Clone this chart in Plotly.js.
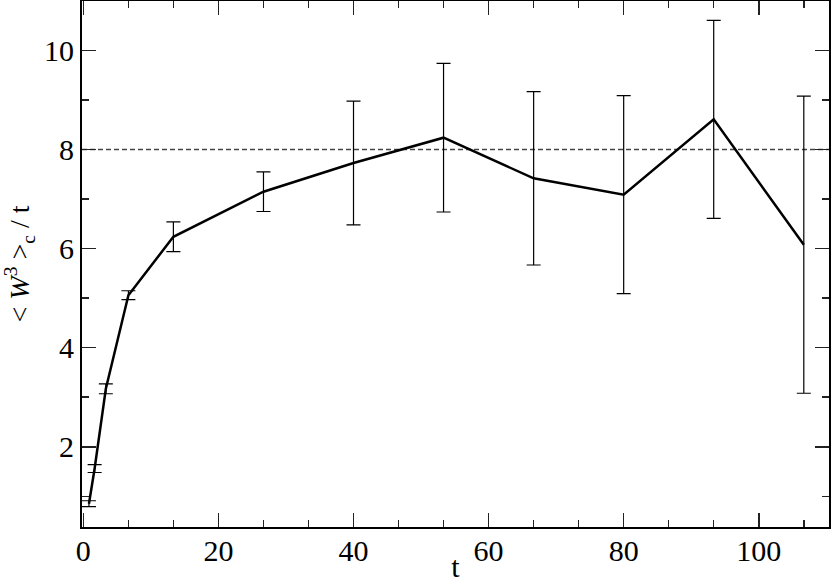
<!DOCTYPE html>
<html>
<head>
<meta charset="utf-8">
<script src="https://cdn.plot.ly/plotly-3.0.1.min.js"></script>
<style>html,body{margin:0;padding:0;background:#fff;}#chart{width:831px;height:583px;}</style>
</head>
<body>
<div id="chart"></div>
<script>
// Data
const tValues   = [0.83, 1.67, 3.33, 6.67, 13.33, 26.67, 40, 53.33, 66.67, 80, 93.33, 106.67];
const w3Values  = [0.85, 1.56, 3.17, 5.06, 6.24, 7.15, 7.73, 8.24, 7.42, 7.09, 8.61, 6.08];
const w3Errors  = [0.06, 0.08, 0.10, 0.09, 0.30, 0.40, 1.25, 1.50, 1.75, 2.00, 2.00, 3.00];
const refLevel  = 8;

const serif = 'Liberation Serif, Times New Roman, serif';

const traces = [{
  x: tValues,
  y: w3Values,
  mode: 'lines',
  type: 'scatter',
  line: {color: '#000', width: 2.5},
  error_y: {type: 'data', array: w3Errors, visible: true, color: '#000', thickness: 1.2, width: 7},
  showlegend: false
}];

const layout = {
  width: 831, height: 583,
  margin: {l: 82, r: 2, t: 1, b: 56},
  paper_bgcolor: '#fff', plot_bgcolor: '#fff',
  font: {family: serif, color: '#000', size: 30},
  showlegend: false,
  xaxis: {
    range: [-0.2, 110.4],
    showgrid: false, zeroline: false,
    showline: true, linecolor: '#000', linewidth: 2, mirror: 'ticks',
    ticks: 'inside', ticklen: 14, tickwidth: 1.5, tickcolor: '#222',
    tick0: 0, dtick: 20,
    ticklabelstandoff: -4,
    minor: {ticks: 'inside', ticklen: 7, tickwidth: 1.5, tickcolor: '#222', tick0: 0, dtick: 20/3, showgrid: false},
    tickfont: {family: serif, size: 30, color: '#000'},
    title: {text: 't', font: {family: serif, size: 30, color: '#000'}, standoff: 0}
  },
  yaxis: {
    range: [0.38, 11],
    showgrid: false, zeroline: false,
    showline: true, linecolor: '#000', linewidth: 2, mirror: 'ticks',
    ticks: 'inside', ticklen: 14, tickwidth: 1.5, tickcolor: '#222',
    tick0: 0, dtick: 2,
    minor: {ticks: 'inside', ticklen: 7, tickwidth: 1.5, tickcolor: '#222', tick0: 0, dtick: 1, showgrid: false},
    tickfont: {family: serif, size: 30, color: '#000'},
    title: {text: '&lt; <i>W</i><sup>3</sup> &gt;<sub>c</sub> / t', font: {family: serif, size: 28, color: '#000'}, standoff: 12}
  },
  shapes: [{
    type: 'line', xref: 'paper', x0: 0, x1: 1, yref: 'y', y0: refLevel, y1: refLevel,
    line: {color: '#444', width: 1.5, dash: '5px,3px'}, layer: 'below'
  }]
};

Plotly.newPlot('chart', traces, layout, {staticPlot: true, displayModeBar: false});
</script>
</body>
</html>
